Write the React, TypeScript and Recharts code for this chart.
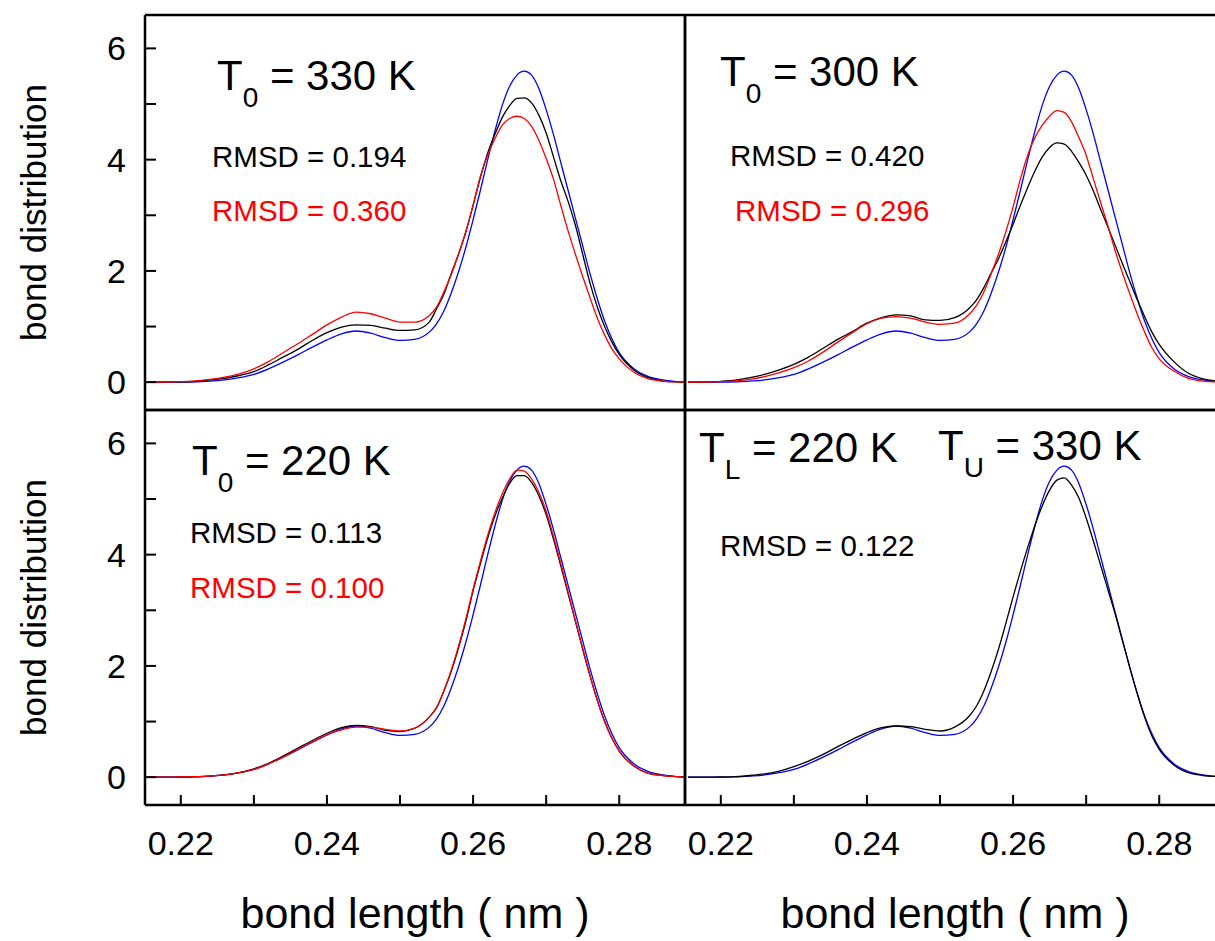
import React from 'react';
import { LineChart, Line, XAxis, YAxis, Label } from 'recharts';

// bond length grid (nm)
const BOND_LENGTH = [
  0.2155, 0.218, 0.22, 0.222, 0.224, 0.226, 0.228, 0.23, 0.232, 0.234,
  0.236, 0.238, 0.24, 0.242, 0.244, 0.246, 0.248, 0.25, 0.252, 0.254,
  0.255, 0.256, 0.257, 0.258, 0.259, 0.26, 0.261, 0.262, 0.263, 0.264,
  0.265, 0.266, 0.267, 0.268, 0.269, 0.27, 0.271, 0.272, 0.273, 0.274,
  0.275, 0.276, 0.277, 0.278, 0.279, 0.28, 0.282, 0.284, 0.286, 0.288, 0.289,
];

// reference distribution (blue), the same in every panel
const REFERENCE = [
  0, 0, 0, 0.005, 0.02, 0.04, 0.08, 0.14, 0.24, 0.36,
  0.49, 0.63, 0.76, 0.87, 0.92, 0.88, 0.8, 0.75, 0.77, 0.9,
  1.05, 1.28, 1.6, 1.98, 2.42, 2.92, 3.45, 4.0, 4.52, 4.98,
  5.32, 5.52, 5.59, 5.52, 5.28, 4.9, 4.45, 3.95, 3.45, 2.95,
  2.45, 1.95, 1.5, 1.1, 0.78, 0.53, 0.24, 0.1, 0.04, 0.01, 0,
];

// T0 = 330 K
const T330_BLACK = [
  0, 0, 0.005, 0.015, 0.04, 0.07, 0.12, 0.19, 0.31, 0.45,
  0.59, 0.75, 0.89, 0.99, 1.03, 1.02, 0.97, 0.93, 0.94, 1.08,
  1.32, 1.58, 1.95, 2.3, 2.7, 3.18, 3.68, 4.12, 4.46, 4.76,
  4.97, 5.1, 5.11, 5.02, 4.8, 4.48, 4.05, 3.62, 3.25, 2.82,
  2.3, 1.78, 1.35, 1.0, 0.72, 0.5, 0.22, 0.08, 0.02, 0.005, 0,
];
const T330_RED = [
  0, 0.003, 0.01, 0.025, 0.05, 0.09, 0.15, 0.24, 0.37, 0.53,
  0.69, 0.86, 1.03, 1.17, 1.26, 1.23, 1.15, 1.08, 1.08, 1.2,
  1.35, 1.62, 1.93, 2.3, 2.7, 3.18, 3.7, 4.08, 4.38, 4.62,
  4.74, 4.78, 4.74, 4.6, 4.35, 4.02, 3.65, 3.18, 2.72, 2.3,
  1.9, 1.52, 1.15, 0.85, 0.6, 0.42, 0.18, 0.06, 0.02, 0.005, 0,
];

// T0 = 300 K
const T300_BLACK = [
  0, 0.005, 0.015, 0.035, 0.08, 0.14, 0.22, 0.32, 0.45, 0.61,
  0.77, 0.91, 1.06, 1.16, 1.21, 1.19, 1.12, 1.11, 1.16, 1.33,
  1.48, 1.7, 1.96, 2.22, 2.52, 2.84, 3.18, 3.5, 3.8, 4.05,
  4.22, 4.3, 4.28, 4.15, 3.95, 3.72, 3.43, 3.1, 2.78, 2.45,
  2.12, 1.8, 1.48, 1.18, 0.9, 0.68, 0.37, 0.16, 0.06, 0.02, 0.01,
];
const T300_RED = [
  0, 0.003, 0.01, 0.025, 0.05, 0.1, 0.17, 0.26, 0.38, 0.54,
  0.72, 0.89, 1.05, 1.15, 1.18, 1.15, 1.08, 1.04, 1.06, 1.22,
  1.38, 1.62, 1.95, 2.3, 2.7, 3.15, 3.65, 4.08, 4.4, 4.62,
  4.78, 4.88, 4.85, 4.68, 4.4, 4.08, 3.65, 3.22, 2.8, 2.35,
  1.95, 1.58, 1.22, 0.9, 0.62, 0.42, 0.2, 0.07, 0.02, 0.005, 0,
];

// T0 = 220 K
const T220_BLACK = [
  0, 0, 0.003, 0.01, 0.02, 0.04, 0.08, 0.15, 0.25, 0.38,
  0.52, 0.66, 0.79, 0.89, 0.93, 0.91, 0.84, 0.82, 0.88, 1.08,
  1.25, 1.55, 1.9, 2.32, 2.8, 3.35, 3.84, 4.3, 4.7, 5.02,
  5.28, 5.42, 5.42, 5.3, 5.06, 4.72, 4.28, 3.8, 3.3, 2.8,
  2.3, 1.82, 1.38, 1.0, 0.7, 0.47, 0.2, 0.07, 0.03, 0.01, 0,
];
const T220_RED = [
  0, 0, 0.003, 0.01, 0.02, 0.04, 0.08, 0.14, 0.24, 0.36,
  0.5, 0.63, 0.76, 0.85, 0.9, 0.9, 0.86, 0.83, 0.88, 1.08,
  1.25, 1.55, 1.92, 2.35, 2.84, 3.38, 3.88, 4.35, 4.76, 5.1,
  5.36, 5.52, 5.5, 5.36, 5.12, 4.78, 4.33, 3.84, 3.33, 2.82,
  2.32, 1.83, 1.38, 1.0, 0.7, 0.47, 0.2, 0.07, 0.03, 0.01, 0,
];

// TL = 220 K, TU = 330 K
const TLU_BLACK = [
  0, 0, 0.003, 0.01, 0.03, 0.06, 0.11, 0.19, 0.29, 0.41,
  0.55, 0.68, 0.8, 0.89, 0.92, 0.91, 0.86, 0.83, 0.9, 1.1,
  1.28, 1.55, 1.9, 2.3, 2.76, 3.24, 3.7, 4.13, 4.53, 4.88,
  5.16, 5.34, 5.38, 5.25, 5.02, 4.66, 4.24, 3.8, 3.36, 2.92,
  2.44, 1.96, 1.5, 1.08, 0.74, 0.5, 0.22, 0.08, 0.03, 0.01, 0,
];

const X_DOMAIN = [0.2151, 0.289];
const X_TICKS = [0.22, 0.23, 0.24, 0.25, 0.26, 0.27, 0.28];
const X_TICK_LABELS = ['0.22', '0.24', '0.26', '0.28'];
const Y_DOMAIN = [-0.5, 6.6];
const Y_TICKS = [0, 1, 2, 3, 4, 5, 6];
const Y_TICK_LABELS = ['0', '2', '4', '6'];

const FONT = '"Liberation Sans", Arial, Helvetica, sans-serif';
const BLUE = '#0000ff';
const RED = '#ff0000';
const BLACK = '#000000';

const PLOT_W = 540;
const PLOT_H = 395;
const GUTTER_L = 145;
const GUTTER_T = 15;
const PAD = 15;

const AXIS_LINE = { stroke: '#000', strokeWidth: 2.5 };
const TICK_LINE = { stroke: '#000', strokeWidth: 2 };
const TICK_TEXT = { fill: '#000', fontSize: 34, fontFamily: FONT };

type Series = { key: string; color: string };

const buildRows = (cols: Record<string, number[]>) =>
  BOND_LENGTH.map((x, i) => {
    const row: Record<string, number> = { x };
    Object.keys(cols).forEach((k) => {
      row[k] = cols[k][i];
    });
    return row;
  });

const fmtX = (v: number) => {
  const s = v.toFixed(2);
  return X_TICK_LABELS.includes(s) ? s : '';
};
const fmtY = (v: number) => (Y_TICK_LABELS.includes(String(v)) ? String(v) : '');

interface PanelProps {
  plotX: number;
  plotY: number;
  rows: Record<string, number>[];
  series: Series[];
  leftLabels: boolean;
  bottomLabels: boolean;
}

// one framed panel; the frame is made of four axes with inward ticks
const Panel: React.FC<PanelProps> = ({ plotX, plotY, rows, series, leftLabels, bottomLabels }) => {
  const bottom = bottomLabels ? 941 - (plotY + PLOT_H) : PAD;
  return (
    <div style={{ position: 'absolute', left: plotX - GUTTER_L, top: plotY - GUTTER_T }}>
      <LineChart
        width={GUTTER_L + PLOT_W + PAD}
        height={GUTTER_T + PLOT_H + bottom}
        data={rows}
        margin={{ top: GUTTER_T - 1, right: PAD - 1, bottom: bottomLabels ? 0 : PAD - 1, left: 0 }}
      >
        <XAxis
          xAxisId="b"
          dataKey="x"
          type="number"
          domain={X_DOMAIN}
          ticks={X_TICKS}
          interval={0}
          allowDataOverflow
          height={bottomLabels ? bottom : 1}
          axisLine={AXIS_LINE}
          tickLine={TICK_LINE}
          tickSize={-10}
          tickMargin={36}
          tick={bottomLabels ? TICK_TEXT : false}
          tickFormatter={fmtX}
        >
          {bottomLabels && (
            <Label
              value="bond length ( nm )"
              position="insideBottom"
              offset={13}
              fill="#000"
              fontSize={43}
              fontFamily={FONT}
            />
          )}
        </XAxis>
        <XAxis
          xAxisId="t"
          orientation="top"
          dataKey="x"
          type="number"
          domain={X_DOMAIN}
          ticks={X_TICKS}
          interval={0}
          allowDataOverflow
          height={1}
          axisLine={AXIS_LINE}
          tickLine={TICK_LINE}
          tickSize={-10}
          tick={false}
        />
        <YAxis
          yAxisId="l"
          type="number"
          domain={Y_DOMAIN}
          ticks={Y_TICKS}
          interval={0}
          allowDataOverflow
          width={GUTTER_L}
          axisLine={AXIS_LINE}
          tickLine={TICK_LINE}
          tickSize={-11}
          tickMargin={30}
          tick={leftLabels ? TICK_TEXT : false}
          tickFormatter={fmtY}
        >
          {leftLabels && (
            <Label
              value="bond distribution"
              angle={-90}
              position="insideLeft"
              offset={34}
              fill="#000"
              fontSize={35}
              fontFamily={FONT}
              style={{ textAnchor: 'middle' }}
            />
          )}
        </YAxis>
        <YAxis
          yAxisId="r"
          orientation="right"
          type="number"
          domain={Y_DOMAIN}
          ticks={Y_TICKS}
          interval={0}
          allowDataOverflow
          width={1}
          axisLine={AXIS_LINE}
          tickLine={TICK_LINE}
          tickSize={-11}
          tick={false}
        />
        {series.map((s) => (
          <Line
            key={s.key}
            xAxisId="b"
            yAxisId="l"
            type="monotone"
            dataKey={s.key}
            stroke={s.color}
            strokeWidth={1.3}
            dot={false}
            isAnimationActive={false}
          />
        ))}
      </LineChart>
    </div>
  );
};

const rows330 = buildRows({ ref: REFERENCE, black: T330_BLACK, red: T330_RED });
const rows300 = buildRows({ ref: REFERENCE, black: T300_BLACK, red: T300_RED });
const rows220 = buildRows({ ref: REFERENCE, black: T220_BLACK, red: T220_RED });
const rowsTLU = buildRows({ ref: REFERENCE, black: TLU_BLACK });

const THREE: Series[] = [
  { key: 'ref', color: BLUE },
  { key: 'black', color: BLACK },
  { key: 'red', color: RED },
];
const TWO: Series[] = [
  { key: 'ref', color: BLUE },
  { key: 'black', color: BLACK },
];

// temperature caption with a subscript on the T
const TempText: React.FC<{ x: number; y: number; sub: string; rest: string }> = ({ x, y, sub, rest }) => (
  <text x={x} y={y} fontSize={42} fontFamily={FONT} fill="#000">
    T
    <tspan fontSize={28} dy={17}>
      {sub}
    </tspan>
    <tspan dy={-17}>{rest}</tspan>
  </text>
);

const Rmsd: React.FC<{ x: number; y: number; value: string; color: string }> = ({ x, y, value, color }) => (
  <text x={x} y={y} fontSize={29.5} fontFamily={FONT} fill={color}>
    {`RMSD = ${value}`}
  </text>
);

export default function App() {
  return (
    <div
      style={{
        position: 'absolute',
        left: 0,
        top: 0,
        width: 1215,
        height: 941,
        overflow: 'hidden',
        background: '#fff',
      }}
    >
      <Panel plotX={145} plotY={15} rows={rows330} series={THREE} leftLabels bottomLabels={false} />
      <Panel plotX={685} plotY={15} rows={rows300} series={THREE} leftLabels={false} bottomLabels={false} />
      <Panel plotX={145} plotY={410} rows={rows220} series={THREE} leftLabels bottomLabels />
      <Panel plotX={685} plotY={410} rows={rowsTLU} series={TWO} leftLabels={false} bottomLabels />

      <svg
        width={1215}
        height={941}
        style={{ position: 'absolute', left: 0, top: 0, pointerEvents: 'none' }}
      >
        <TempText x={217} y={90} sub="0" rest=" = 330 K" />
        <Rmsd x={212} y={167} value="0.194" color={BLACK} />
        <Rmsd x={212} y={221} value="0.360" color={RED} />

        <TempText x={720} y={86} sub="0" rest=" = 300 K" />
        <Rmsd x={730} y={166} value="0.420" color={BLACK} />
        <Rmsd x={735} y={221} value="0.296" color={RED} />

        <TempText x={192} y={475} sub="0" rest=" = 220 K" />
        <Rmsd x={190} y={543} value="0.113" color={BLACK} />
        <Rmsd x={190} y={598} value="0.100" color={RED} />

        <TempText x={699} y={462} sub="L" rest=" = 220 K" />
        <TempText x={938} y={460} sub="U" rest=" = 330 K" />
        <Rmsd x={720} y={556} value="0.122" color={BLACK} />
      </svg>
    </div>
  );
}
